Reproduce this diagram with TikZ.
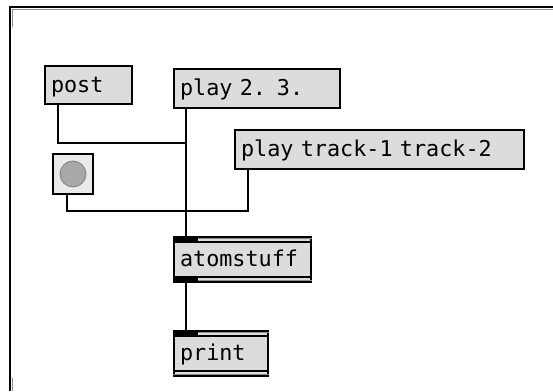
\documentclass[tikz,border=0pt]{standalone}
\usepackage{fontspec}
\newfontfamily\maxfont{DejaVu Sans Mono}
\definecolor{boxfill}{HTML}{DCDCDC}
\definecolor{togfill}{HTML}{EAEAEA}
\definecolor{knob}{HTML}{A8A8A8}
\definecolor{bandgray}{HTML}{8C8C8C}
\tikzset{
  maxbox/.style={draw=black, line width=2pt, fill=boxfill, anchor=north west,
    inner xsep=6pt, inner ysep=0pt, align=left, text height=16.5pt, text depth=2pt,
    font=\maxfont\fontsize{21.8}{22}\selectfont},
  wire/.style={draw=black, line width=2pt},
}
\begin{document}
\begin{tikzpicture}[x=1pt,y=-1pt]
\useasboundingbox (0,0) rectangle (553,391);
\fill[white] (0,0) rectangle (553,391);
% window frame
\draw[line width=2pt] (10,391) -- (10,7) -- (553,7);
\draw[bandgray, line width=1pt] (12.5,27) -- (12.5,9.5) -- (553,9.5);
\draw[bandgray, line width=1pt] (12.5,378) -- (12.5,391);
% boxes
\node[maxbox, text width=75pt, minimum height=38pt] (post) at (44,65) {post};
\node[maxbox, text width=154pt, minimum height=39pt] (play) at (173,68) {play 2. 3.};
\node[maxbox, text width=277pt, minimum height=39pt] (track) at (234,129) {play track-1 track-2};
\node[maxbox, text width=125pt, minimum height=45pt] (atom) at (173,236) {atomstuff};
\node[maxbox, text width=82pt, minimum height=45pt] (print) at (173,330) {print};
% toggle
\node[draw=black, line width=2pt, fill=togfill, minimum size=40pt, inner sep=0pt, anchor=north west] (tog) at (52,153) {};
\node[circle, fill=knob, draw=gray, line width=0.8pt, minimum size=26pt, inner sep=0pt] (knobc) at (tog.center) {};
% inlet / outlet bands
\foreach \n in {atom, print}{
  \fill[black] (\n.north west) rectangle ([xshift=25pt,yshift=-7pt]\n.north west);
  \draw[bandgray, line width=1.2pt] ([xshift=25pt,yshift=-2.5pt]\n.north west) -- ([yshift=-2.5pt]\n.north east);
  \draw[black, line width=1.2pt] ([xshift=25pt,yshift=-6pt]\n.north west) -- ([yshift=-6pt]\n.north east);
  \draw[black, line width=1.2pt] ([yshift=6pt]\n.south west) -- ([yshift=6pt]\n.south east);
  \draw[bandgray, line width=1.2pt] ([yshift=2.5pt]\n.south west) -- ([yshift=2.5pt]\n.south east);
}
\fill[black] (atom.south west) rectangle ([xshift=25pt,yshift=7pt]atom.south west);
% connection points
\coordinate (postout) at ([xshift=14pt]post.south west);
\coordinate (playout) at ([xshift=13pt]play.south west);
\coordinate (atomin) at ([xshift=13pt]atom.north west);
\coordinate (atomout) at ([xshift=13pt]atom.south west);
\coordinate (printin) at ([xshift=13pt]print.north west);
\coordinate (togout) at ([xshift=15pt]tog.south west);
\coordinate (trackin) at ([xshift=14pt]track.south west);
\coordinate (bend1) at (postout |- 0,143);
\coordinate (bend2) at (atomin |- 0,143);
\coordinate (bend3) at (togout |- 0,211);
\coordinate (bend4) at (trackin |- 0,211);
% wires
\draw[wire] (postout) -- (bend1) -- (bend2) -- (atomin);
\draw[wire] (playout) -- (atomin);
\draw[wire] (togout) -- (bend3) -- (bend4) -- (trackin);
\draw[wire] (atomout) -- (printin);
\end{tikzpicture}
\end{document}
